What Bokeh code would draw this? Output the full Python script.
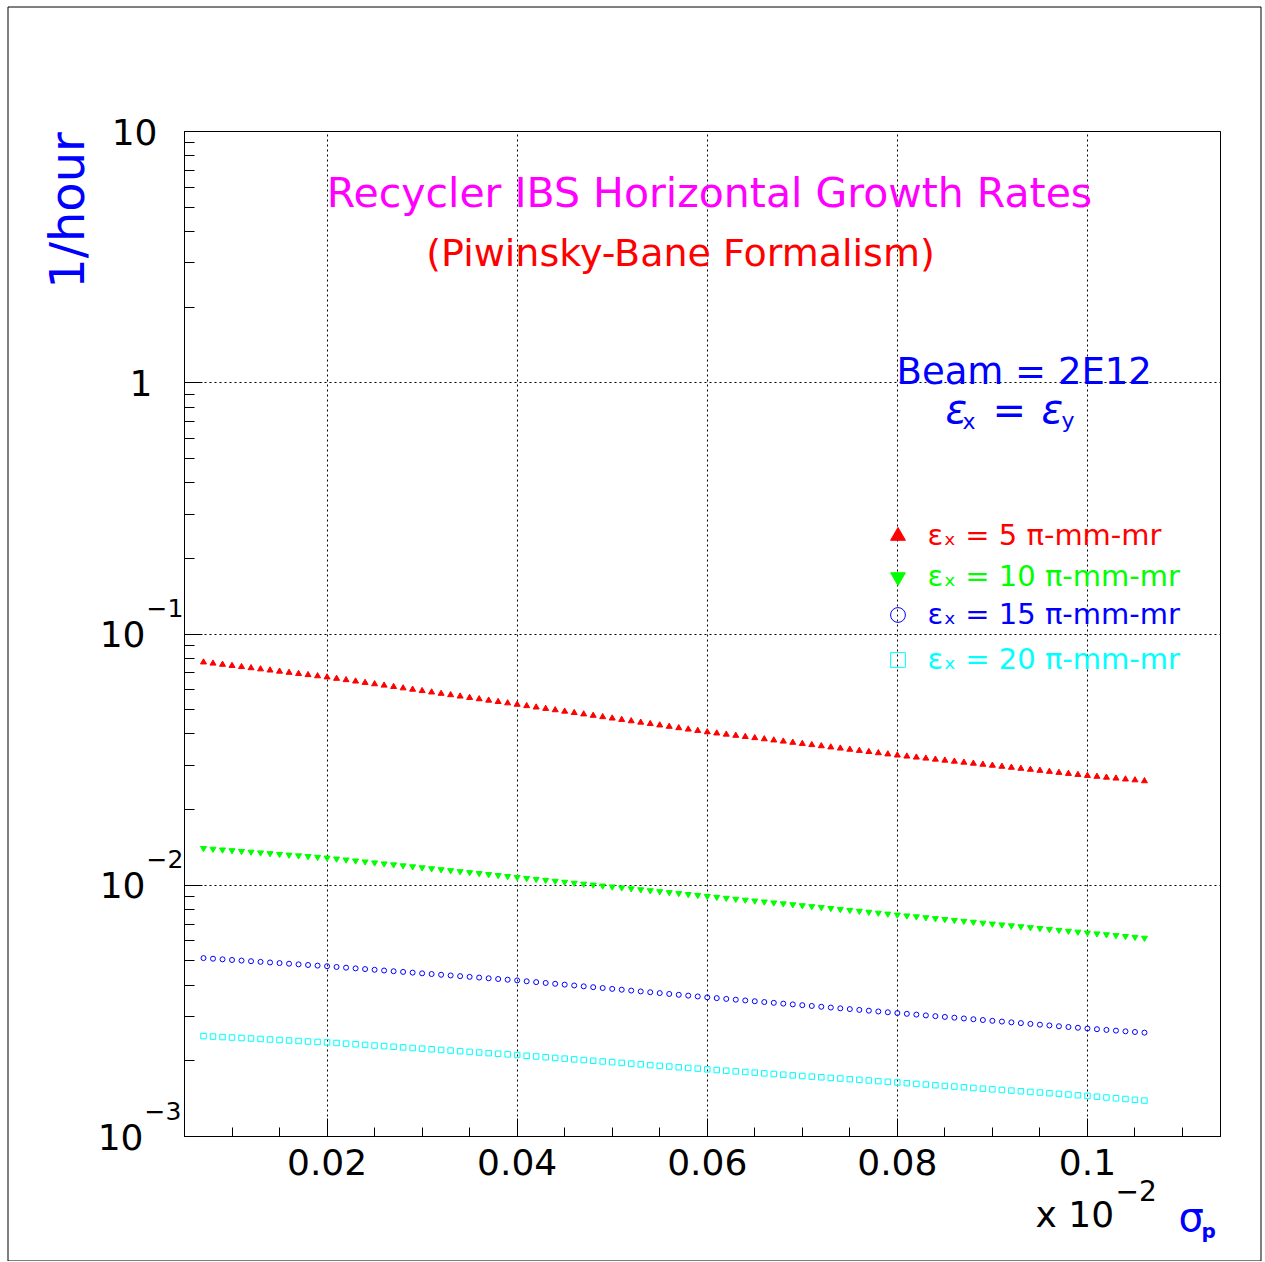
import math
from bokeh.plotting import figure
from bokeh.models import FixedTicker, Label, Legend, LegendItem, BoxAnnotation, Grid
from bokeh.core.properties import value
from bokeh.embed import file_html
from bokeh.resources import INLINE

# ---------------- data ----------------
sigma_p = [0.007, 0.008, 0.009, 0.010, 0.011, 0.012, 0.013, 0.014, 0.015, 0.016,
           0.017, 0.018, 0.019, 0.020, 0.021, 0.022, 0.023, 0.024, 0.025, 0.026,
           0.027, 0.028, 0.029, 0.030, 0.031, 0.032, 0.033, 0.034, 0.035, 0.036,
           0.037, 0.038, 0.039, 0.040, 0.041, 0.042, 0.043, 0.044, 0.045, 0.046,
           0.047, 0.048, 0.049, 0.050, 0.051, 0.052, 0.053, 0.054, 0.055, 0.056,
           0.057, 0.058, 0.059, 0.060, 0.061, 0.062, 0.063, 0.064, 0.065, 0.066,
           0.067, 0.068, 0.069, 0.070, 0.071, 0.072, 0.073, 0.074, 0.075, 0.076,
           0.077, 0.078, 0.079, 0.080, 0.081, 0.082, 0.083, 0.084, 0.085, 0.086,
           0.087, 0.088, 0.089, 0.090, 0.091, 0.092, 0.093, 0.094, 0.095, 0.096,
           0.097, 0.098, 0.099, 0.100, 0.101, 0.102, 0.103, 0.104, 0.105, 0.106]

rate_eps5 = [0.0772, 0.07639, 0.07559, 0.0748, 0.07401, 0.07324, 0.07247, 0.07171, 0.07096, 0.07021,
             0.06947, 0.06874, 0.06802, 0.06731, 0.06646, 0.06564, 0.06482, 0.06402, 0.06322, 0.06244,
             0.06166, 0.06089, 0.06014, 0.05939, 0.05865, 0.05792, 0.0572, 0.05649, 0.05579, 0.0551,
             0.05441, 0.05374, 0.05307, 0.05241, 0.05174, 0.05109, 0.05045, 0.04982, 0.04919, 0.04857,
             0.04796, 0.04736, 0.04677, 0.04618, 0.0456, 0.04503, 0.04446, 0.0439, 0.04335, 0.04281,
             0.04227, 0.04174, 0.04122, 0.0407, 0.04027, 0.03984, 0.03942, 0.039, 0.03859, 0.03818,
             0.03778, 0.03738, 0.03698, 0.03659, 0.0362, 0.03582, 0.03544, 0.03507, 0.0347, 0.03433,
             0.03397, 0.03361, 0.03325, 0.0329, 0.03259, 0.03229, 0.03199, 0.03169, 0.0314, 0.03111,
             0.03082, 0.03053, 0.03025, 0.02997, 0.02969, 0.02941, 0.02914, 0.02887, 0.0286, 0.02833,
             0.02807, 0.02781, 0.02755, 0.02729, 0.02708, 0.02686, 0.02664, 0.02642, 0.02621, 0.026]

rate_eps10 = [0.01404, 0.013946, 0.013852, 0.013759, 0.013666, 0.013574, 0.013483, 0.013392, 0.013302, 0.013212,
              0.013123, 0.013035, 0.012947, 0.01286, 0.012746, 0.012633, 0.012521, 0.01241, 0.0123, 0.012191,
              0.012083, 0.011976, 0.01187, 0.011765, 0.011661, 0.011558, 0.011455, 0.011353, 0.011252, 0.011152,
              0.011053, 0.010955, 0.010858, 0.010762, 0.010667, 0.010575, 0.010484, 0.010394, 0.010304, 0.010215,
              0.010127, 0.01004, 0.009954, 0.009868, 0.009783, 0.009699, 0.009615, 0.009532, 0.00945, 0.009369,
              0.009288, 0.009208, 0.009129, 0.00905, 0.008973, 0.008897, 0.008821, 0.008746, 0.008672, 0.008598,
              0.008525, 0.008453, 0.008381, 0.00831, 0.008239, 0.008169, 0.0081, 0.008031, 0.007963, 0.007895,
              0.007828, 0.007762, 0.007696, 0.007631, 0.007567, 0.007505, 0.007443, 0.007382, 0.007321, 0.007261,
              0.007201, 0.007142, 0.007083, 0.007025, 0.006967, 0.00691, 0.006853, 0.006797, 0.006741, 0.006686,
              0.006631, 0.006577, 0.006523, 0.006469, 0.006419, 0.006368, 0.006318, 0.006268, 0.006219, 0.00617]

rate_eps15 = [0.00513, 0.005101, 0.005072, 0.005043, 0.005014, 0.004985, 0.004956, 0.004928, 0.0049, 0.004872,
              0.004844, 0.004816, 0.004788, 0.004761, 0.004729, 0.004698, 0.004668, 0.004638, 0.004608, 0.004578,
              0.004548, 0.004519, 0.00449, 0.004461, 0.004432, 0.004403, 0.004375, 0.004347, 0.004319, 0.004291,
              0.004263, 0.004235, 0.004208, 0.004181, 0.004148, 0.004116, 0.004084, 0.004053, 0.004022, 0.003991,
              0.00396, 0.003929, 0.003899, 0.003869, 0.003839, 0.003809, 0.00378, 0.003751, 0.003722, 0.003693,
              0.003665, 0.003637, 0.003609, 0.003581, 0.003554, 0.003529, 0.003504, 0.003479, 0.003454, 0.003429,
              0.003404, 0.00338, 0.003356, 0.003332, 0.003308, 0.003284, 0.00326, 0.003237, 0.003214, 0.003191,
              0.003168, 0.003145, 0.003122, 0.0031, 0.003078, 0.003056, 0.003034, 0.003013, 0.002992, 0.002971,
              0.00295, 0.002929, 0.002908, 0.002887, 0.002867, 0.002847, 0.002827, 0.002807, 0.002787, 0.002767,
              0.002747, 0.002728, 0.002709, 0.00269, 0.002673, 0.002656, 0.002639, 0.002622, 0.002606, 0.00259]

rate_eps20 = [0.00251, 0.002499, 0.002488, 0.002477, 0.002466, 0.002455, 0.002444, 0.002433, 0.002422, 0.002411,
              0.0024, 0.002389, 0.002379, 0.002369, 0.002356, 0.002342, 0.002328, 0.002315, 0.002302, 0.002289,
              0.002276, 0.002263, 0.00225, 0.002237, 0.002224, 0.002211, 0.002198, 0.002185, 0.002172, 0.002159,
              0.002147, 0.002135, 0.002123, 0.002111, 0.002096, 0.002082, 0.002068, 0.002054, 0.002041, 0.002028,
              0.002015, 0.002002, 0.001989, 0.001976, 0.001963, 0.00195, 0.001937, 0.001924, 0.001911, 0.001899,
              0.001887, 0.001875, 0.001863, 0.001851, 0.001839, 0.001828, 0.001817, 0.001806, 0.001795, 0.001784,
              0.001773, 0.001762, 0.001751, 0.001741, 0.001731, 0.001721, 0.001711, 0.001701, 0.001691, 0.001681,
              0.001671, 0.001661, 0.001651, 0.001641, 0.00163, 0.00162, 0.00161, 0.0016, 0.00159, 0.00158,
              0.00157, 0.00156, 0.00155, 0.001541, 0.001532, 0.001523, 0.001514, 0.001505, 0.001496, 0.001487,
              0.001478, 0.001469, 0.00146, 0.001451, 0.00144, 0.00143, 0.00142, 0.00141, 0.0014, 0.00139]

series_labels = ["\u03b5\u2093 = 5 \u03c0-mm-mr", "\u03b5\u2093 = 10 \u03c0-mm-mr",
                 "\u03b5\u2093 = 15 \u03c0-mm-mr", "\u03b5\u2093 = 20 \u03c0-mm-mr"]

x_major = [0.02, 0.04, 0.06, 0.08, 0.1]
x_tick_labels = ["0.02", "0.04", "0.06", "0.08", "0.1"]
x_minor = [0.01, 0.015, 0.025, 0.03, 0.035, 0.045, 0.05, 0.055, 0.065, 0.07, 0.075,
           0.085, 0.09, 0.095, 0.105, 0.11]
y_major = [0.001, 0.01, 0.1, 1, 10]
y_tick_base = ["10", "10", "10", "1", "10"]
y_tick_exp = ["\u22123", "\u22122", "\u22121", "", ""]
y_minor = [m * d for d in (0.001, 0.01, 0.1, 1) for m in range(2, 10)]

FONT = "DejaVu Sans"

# ---------------- geometry: bokeh frame = whole canvas, ROOT frame inside ----------------
W, H = 1264, 1261
FX0, FX1, FY0, FY1 = 184, 1220, 131, 1136          # pixel box of the drawn frame
X_LO, X_HI, Y_LO, Y_HI = 0.005, 0.114, 0.001, 10.0   # axis limits

ppx = (FX1 - FX0) / (X_HI - X_LO)
ppd = (FY1 - FY0) / (math.log10(Y_HI) - math.log10(Y_LO))
x_start = X_LO - FX0 / ppx
x_end = X_HI + (W - FX1) / ppx
y_start = 10 ** (math.log10(Y_LO) - (H - FY1) / ppd)
y_end = 10 ** (math.log10(Y_HI) + FY0 / ppd)

p = figure(width=W, height=H, x_range=(x_start, x_end), y_range=(y_start, y_end),
           y_axis_type="log", output_backend="svg", toolbar_location=None,
           min_border=0, min_border_left=0, min_border_right=0,
           min_border_top=0, min_border_bottom=0)
p.background_fill_color = "white"
p.border_fill_color = "white"
p.outline_line_color = None

# canvas border and plot frame
p.add_layout(BoxAnnotation(left=7.5, right=1260.5, top=H - 6.5, bottom=H - 1260.5,
                           left_units="screen", right_units="screen",
                           top_units="screen", bottom_units="screen",
                           fill_alpha=0, line_color="black", line_alpha=1.0,
                           line_width=1, level="underlay"))
p.add_layout(BoxAnnotation(left=X_LO, right=X_HI, bottom=Y_LO, top=Y_HI,
                           fill_alpha=0, line_color="black", line_alpha=1.0, line_width=1))

xa = p.xaxis[0]
xa.fixed_location = Y_LO
xa.bounds = (X_LO, X_HI)
xa.ticker = FixedTicker(ticks=x_major, minor_ticks=x_minor)
xa.major_label_overrides = {t: l for t, l in zip(x_major, x_tick_labels)}
xa.major_tick_in = 18
xa.major_tick_out = 0
xa.minor_tick_in = 9
xa.minor_tick_out = 0
xa.major_label_standoff = 12
xa.major_label_text_font = FONT
xa.major_label_text_font_size = "36px"
xa.major_label_text_color = "black"
xa.axis_line_color = "black"
xa.major_tick_line_color = "black"
xa.minor_tick_line_color = "black"

ya = p.yaxis[0]
ya.fixed_location = X_LO
ya.bounds = (Y_LO, Y_HI)
ya.ticker = FixedTicker(ticks=y_major, minor_ticks=y_minor)
ya.major_tick_in = 18
ya.major_tick_out = 0
ya.minor_tick_in = 10
ya.minor_tick_out = 0
ya.major_label_text_color = None
ya.axis_line_color = "black"
ya.major_tick_line_color = "black"
ya.minor_tick_line_color = "black"

# dotted grid, limited to the frame
if "cross_bounds" in Grid.properties():
    gx, gy = p.xgrid[0], p.ygrid[0]
    gx.bounds = (X_LO, X_HI)
    gx.cross_bounds = (Y_LO, Y_HI)
    gy.bounds = (Y_LO, Y_HI)
    gy.cross_bounds = (X_LO, X_HI)
    for g in (gx, gy):
        g.grid_line_color = "black"
        g.grid_line_dash = "2 3"
        g.grid_line_width = 1
else:
    p.xgrid.visible = False
    p.ygrid.visible = False
    p.segment(x0=x_major, y0=[Y_LO] * len(x_major), x1=x_major, y1=[Y_HI] * len(x_major),
              line_color="black", line_dash="2 3", line_width=1, level="underlay")
    p.segment(x0=[X_LO] * len(y_major), y0=y_major, x1=[X_HI] * len(y_major), y1=y_major,
              line_color="black", line_dash="2 3", line_width=1, level="underlay")

# ---------------- series ----------------
r5 = p.scatter(sigma_p, rate_eps5, marker="triangle", size=6,
               fill_color="#ff0000", line_color="#ff0000", line_width=1)
r10 = p.scatter(sigma_p, rate_eps10, marker="inverted_triangle", size=6,
                fill_color="#00ff00", line_color="#00ff00", line_width=1)
r15 = p.scatter(sigma_p, rate_eps15, marker="circle", size=5,
                fill_color=None, line_color="#0000ff", line_width=1)
r20 = p.scatter(sigma_p, rate_eps20, marker="square", size=5.5,
                fill_color=None, line_color="#00ffff", line_width=1)

# ---------------- legends (one per series, coloured text) ----------------
GL = 37
legend_colors = ["#ff0000", "#00ff00", "#0000ff", "#00ffff"]
legend_row_y = [535, 576, 614, 659]
for r, lab_text, col, cy in zip([r5, r10, r15, r20], series_labels, legend_colors, legend_row_y):
    lg = Legend(items=[LegendItem(label=value(lab_text), renderers=[r])],
                location=(897 - GL / 2, H - cy - GL / 2),
                padding=0, margin=0, spacing=0, glyph_width=GL, glyph_height=GL,
                label_height=GL, label_standoff=12,
                label_text_font=FONT, label_text_font_size="29px", label_text_color=col,
                background_fill_alpha=0, border_line_alpha=0)
    p.add_layout(lg)


def lab(x, y, text, size, color, align="left", style="normal",
        angle=0, y_units="screen", y_offset=0):
    # y is the page position of the vertical middle of the text
    p.add_layout(Label(x=x, y=(H - y) if y_units == "screen" else y,
                       x_units="screen", y_units=y_units, text=text,
                       text_font=FONT, text_font_size=size, text_color=color,
                       text_align=align, text_baseline="middle", text_font_style=style,
                       angle=angle, angle_units="deg", y_offset=y_offset))


# titles
lab(709, 192.5, "Recycler IBS Horizontal Growth Rates", "41px", "#ff00ff", align="center")
lab(680, 252, "(Piwinsky-Bane Formalism)", "38px", "#ff0000", align="center")

# beam annotation
lab(896, 370.5, "Beam = 2E12", "37px", "#0000ff")
lab(945, 408, "\u03b5", "40px", "#0000ff", style="italic")
lab(962, 421, "x", "22px", "#0000ff")
lab(992, 409, "=", "40px", "#0000ff")
lab(1041, 408, "\u03b5", "40px", "#0000ff", style="italic")
lab(1061, 420, "y", "22px", "#0000ff")

# y axis title
lab(66, 210, "1/hour", "48px", "#0000ff", align="center", angle=90)

# y tick labels (10^n written ROOT style)
base_right = {10: 157, 1: 152}
for t, b, e in zip(y_major, y_tick_base, y_tick_exp):
    right = base_right.get(t, 145 if t > 0.005 else 143)
    lab(right, t, b, "36px", "black", align="right", y_units="data")
    if e:
        lab(right + 1, t, e, "25px", "black", y_units="data", y_offset=26)

# x axis multiplier and title
lab(1035, 1213.5, "x 10", "36px", "black")
lab(1115, 1190, "\u22122", "28px", "black")
lab(1178, 1216, "\u03c3", "40px", "#0000ff")
lab(1201, 1230, "p", "20px", "#0000ff", style="bold")

open("out.html", "w").write(file_html(p, INLINE))
